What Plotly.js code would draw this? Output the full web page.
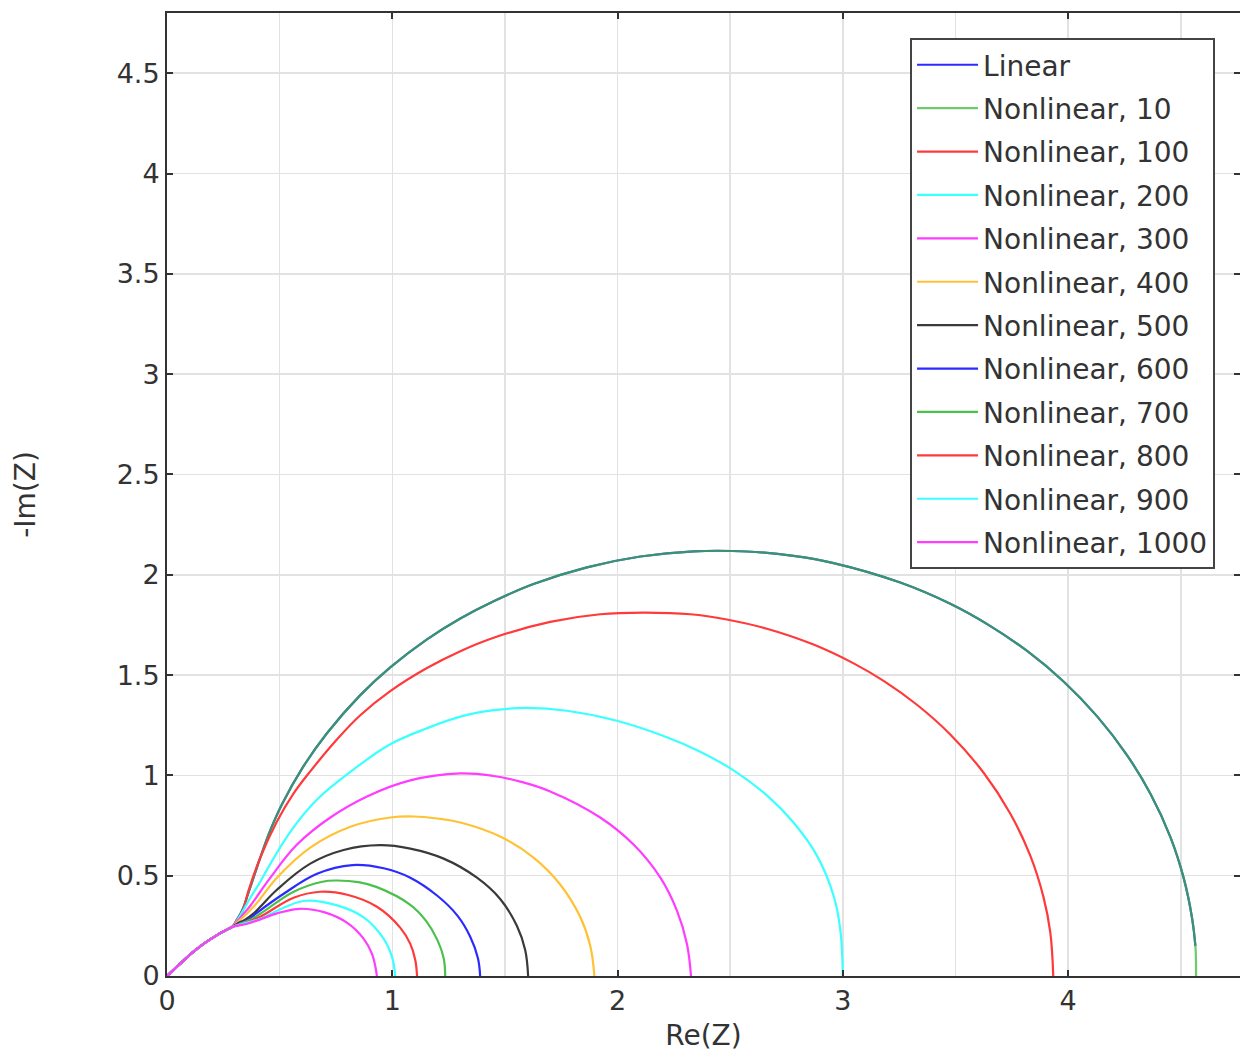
<!DOCTYPE html>
<html>
<head>
<meta charset="utf-8">
<script src="https://cdn.plot.ly/plotly-3.0.1.min.js"></script>
<style>html,body{margin:0;padding:0;background:#fff;}#chart{width:1240px;height:1052px;}</style>
</head>
<body>
<div id="chart"></div>
<script>
// Shared high-frequency start
const commonRe = [0, 0.06, 0.118, 0.17, 0.222, 0.26, 0.29];
const commonIm = [0, 0.063, 0.121, 0.166, 0.204, 0.228, 0.245];

const linearRe = [0.31,0.335,0.36,0.39,0.414,0.46,0.51,0.6,0.71,0.858,0.991,1.154,1.302,1.45,1.627,1.864,2.101,2.338,2.574,2.781,2.959,3.255,3.477,3.655,3.818,3.981,4.129,4.262,4.366,4.455,4.514,4.55,4.565];
const linearIm = [0.28,0.33,0.41,0.51,0.59,0.73,0.855,1.035,1.21,1.40,1.538,1.678,1.782,1.868,1.954,2.037,2.091,2.117,2.116,2.094,2.058,1.961,1.855,1.744,1.62,1.467,1.294,1.10,0.907,0.69,0.484,0.29,0.15];

const nl10Re = [0.31,0.335,0.36,0.39,0.414,0.46,0.51,0.6,0.71,0.858,0.991,1.154,1.302,1.45,1.627,1.864,2.101,2.338,2.574,2.781,2.959,3.255,3.477,3.655,3.818,3.981,4.129,4.262,4.366,4.455,4.514,4.55,4.565,4.568];
const nl10Im = [0.28,0.33,0.41,0.51,0.59,0.73,0.855,1.035,1.21,1.40,1.538,1.678,1.782,1.868,1.954,2.037,2.091,2.117,2.116,2.094,2.058,1.961,1.855,1.744,1.62,1.467,1.294,1.10,0.907,0.69,0.484,0.29,0.15,0];

const nl100Re = [0.31,0.335,0.36,0.414,0.488,0.562,0.636,0.755,0.858,0.991,1.154,1.302,1.45,1.701,1.923,2.116,2.323,2.485,2.663,2.87,3.05,3.181,3.329,3.477,3.625,3.743,3.832,3.891,3.921,3.934];
const nl100Im = [0.28,0.32,0.42,0.59,0.77,0.91,1.02,1.18,1.30,1.42,1.535,1.619,1.686,1.765,1.803,1.811,1.803,1.777,1.731,1.652,1.557,1.471,1.352,1.204,1.013,0.81,0.60,0.392,0.216,0];

const nl200Re = [0.31,0.34,0.37,0.414,0.444,0.548,0.666,0.829,0.991,1.154,1.302,1.45,1.6,1.775,1.997,2.219,2.367,2.515,2.663,2.781,2.885,2.959,2.989,3.0];
const nl200Im = [0.275,0.33,0.39,0.47,0.53,0.72,0.88,1.03,1.155,1.235,1.293,1.325,1.336,1.322,1.272,1.19,1.118,1.025,0.9,0.765,0.6,0.4,0.229,0];

const nl300Re = [0.31,0.34,0.37,0.414,0.459,0.577,0.725,0.888,1.08,1.302,1.45,1.568,1.701,1.923,2.071,2.19,2.264,2.308,2.326];
const nl300Im = [0.27,0.31,0.35,0.42,0.49,0.655,0.79,0.895,0.975,1.01,0.997,0.969,0.92,0.79,0.655,0.49,0.325,0.16,0];

const nl400Re = [0.31,0.345,0.385,0.414,0.488,0.636,0.814,0.991,1.095,1.2,1.302,1.479,1.627,1.746,1.834,1.879,1.897];
const nl400Im = [0.265,0.3,0.346,0.385,0.49,0.64,0.744,0.79,0.795,0.785,0.765,0.695,0.59,0.455,0.295,0.15,0];

const nl500Re = [0.31,0.345,0.385,0.414,0.488,0.636,0.784,0.945,1.08,1.228,1.376,1.479,1.553,1.59,1.603];
const nl500Im = [0.26,0.28,0.312,0.345,0.43,0.56,0.628,0.652,0.635,0.585,0.49,0.384,0.25,0.13,0];

const nl600Re = [0.32,0.36,0.399,0.518,0.666,0.823,0.962,1.08,1.2,1.29,1.346,1.38,1.39];
const nl600Im = [0.26,0.28,0.315,0.41,0.51,0.553,0.537,0.49,0.4,0.3,0.196,0.09,0];

const nl700Re = [0.32,0.36,0.414,0.562,0.69,0.75,0.85,0.932,1.08,1.15,1.2,1.228,1.235];
const nl700Im = [0.258,0.275,0.31,0.42,0.47,0.476,0.468,0.443,0.355,0.275,0.18,0.09,0];

const nl800Re = [0.32,0.36,0.414,0.562,0.68,0.8,0.932,1.036,1.08,1.102,1.11];
const nl800Im = [0.255,0.27,0.295,0.39,0.42,0.405,0.345,0.24,0.16,0.08,0];

const nl900Re = [0.32,0.36,0.414,0.518,0.614,0.755,0.873,0.962,1.0,1.013];
const nl900Im = [0.255,0.268,0.285,0.34,0.375,0.352,0.292,0.185,0.09,0];

const nl1000Re = [0.32,0.36,0.414,0.488,0.59,0.7,0.8,0.87,0.91,0.932];
const nl1000Im = [0.252,0.262,0.282,0.312,0.335,0.317,0.265,0.19,0.11,0];

const seriesNames = ["Linear","Nonlinear, 10","Nonlinear, 100","Nonlinear, 200","Nonlinear, 300","Nonlinear, 400","Nonlinear, 500","Nonlinear, 600","Nonlinear, 700","Nonlinear, 800","Nonlinear, 900","Nonlinear, 1000"];
const seriesRe = [linearRe, nl10Re, nl100Re, nl200Re, nl300Re, nl400Re, nl500Re, nl600Re, nl700Re, nl800Re, nl900Re, nl1000Re];
const seriesIm = [linearIm, nl10Im, nl100Im, nl200Im, nl300Im, nl400Im, nl500Im, nl600Im, nl700Im, nl800Im, nl900Im, nl1000Im];
const seriesColors = ["#2b2bff","rgba(60,184,60,0.75)","#ff3a3a","#3cffff","#ff3cff","#ffc235","#3a3a3a","#2b2bff","#4cc04c","#ff3a3a","#3cffff","#ff3cff"];

const FONT = "DejaVu Sans, Verdana, sans-serif";
const traces = seriesNames.map((n, i) => ({
  type: "scatter", mode: "lines", name: n,
  legendgroup: "g" + i,
  x: commonRe.concat(seriesRe[i]),
  y: commonIm.concat(seriesIm[i]),
  line: {color: seriesColors[i], width: 2.2, shape: "spline", smoothing: 1.1}
}));

const gridC = "#e2e2e2";
const layout = {
  width: 1240, height: 1052,
  margin: {l: 167, r: 0, t: 13, b: 76},
  paper_bgcolor: "#fff", plot_bgcolor: "#fff",
  font: {family: FONT, size: 27, color: "#333"},
  showlegend: true,
  xaxis: {
    range: [0, 4.763], tick0: 0, dtick: 1, ticks: "inside", ticklen: 6, tickwidth: 2, tickcolor: "#333",
    showline: true, linecolor: "#333", linewidth: 2, mirror: "ticks",
    showgrid: true, gridcolor: gridC, gridwidth: 1.5, zeroline: false,
    minor: {dtick: 0.5, showgrid: true, gridcolor: gridC, gridwidth: 1.5},
    tickfont: {family: FONT, size: 27, color: "#333"},
    automargin: false,
    title: {text: "Re(Z)", font: {family: FONT, size: 28, color: "#333"}, standoff: 18}
  },
  yaxis: {
    range: [0, 4.80], tick0: 0, dtick: 0.5, ticks: "inside", ticklen: 6, tickwidth: 2, tickcolor: "#333",
    showline: true, linecolor: "#333", linewidth: 2, mirror: "ticks",
    showgrid: true, gridcolor: gridC, gridwidth: 1.5, zeroline: false,
    tickfont: {family: FONT, size: 27, color: "#333"},
    automargin: false,
    title: {text: "-Im(Z)", font: {family: FONT, size: 28, color: "#333"}, standoff: 73}
  },
  legend: {
    x: 0.6925, y: 0.974, xanchor: "left", yanchor: "top",
    bgcolor: "#fff", bordercolor: "#444", borderwidth: 2,
    font: {family: FONT, size: 28, color: "#333"},
    tracegroupgap: 4, itemwidth: 61
  }
};
Plotly.newPlot("chart", traces, layout, {displayModeBar: false, staticPlot: true});
</script>
</body>
</html>
